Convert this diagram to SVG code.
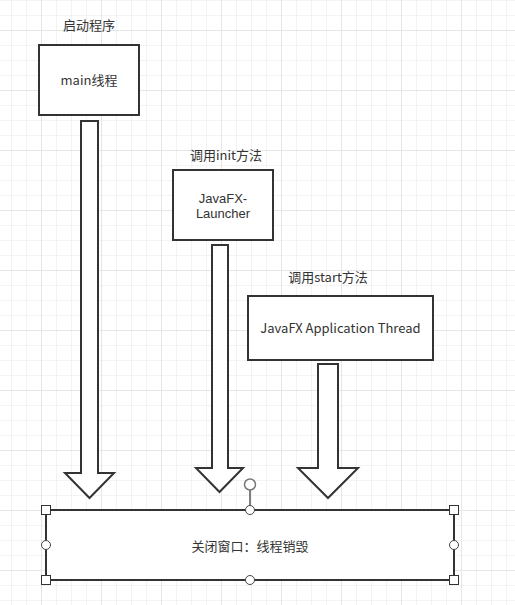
<svg xmlns="http://www.w3.org/2000/svg" width="515" height="605" viewBox="0 0 515 605">
  <defs>
    <pattern id="grid" patternUnits="userSpaceOnUse" x="41" y="30" width="60" height="60">
      <path d="M15.5 0V60M30.5 0V60M45.5 0V60M0 15.5H60M0 30.5H60M0 45.5H60" stroke="#f3f3f3" stroke-width="1" fill="none"/>
      <path d="M0.5 0V60M0 0.5H60" stroke="#e6e6e6" stroke-width="1" fill="none"/>
    </pattern>
    <style>
      .box{fill:#fff;stroke:#333;stroke-width:2}
      .arrow{fill:#fff;stroke:#333;stroke-width:2;stroke-linejoin:miter}
      .t{font-family:"Noto Sans CJK SC","Noto Sans",sans-serif;font-size:13px;fill:#333;text-anchor:middle}
      .tl{font-family:"Liberation Sans",Arial,sans-serif;font-size:13px;fill:#333;text-anchor:middle}
      .hs{fill:#fff;stroke:#333;stroke-width:1}
      .hc{fill:#fff;stroke:#444;stroke-width:1}
      .rot{fill:#fff;stroke:#777;stroke-width:1.5}
    </style>
  </defs>
  <rect width="515" height="605" fill="#fff"/>
  <rect width="515" height="605" fill="url(#grid)"/>

  <g id="connectors">
    <polygon class="arrow" points="81,121 98,121 98,473 114,473 89.5,498 65,473 81,473"/>
    <polygon class="arrow" points="212,245 228,245 228,468 243,468 219.5,492 196,468 212,468"/>
    <polygon class="arrow" points="318,364 338,364 338,468 358,468 328,498 298,468 318,468"/>
  </g>

  <g id="label-start">
    <text class="t" x="89" y="30">启动程序</text>
  </g>
  <g id="node-main">
    <rect class="box" x="39" y="45" width="100" height="70"/>
    <text class="t" x="89" y="85">main线程</text>
  </g>

  <g id="label-init">
    <text class="t" x="226" y="160">调用init方法</text>
  </g>
  <g id="node-launcher">
    <rect class="box" x="173" y="170" width="100" height="70"/>
    <text class="tl" x="223" y="202.5">JavaFX-</text>
    <text class="tl" x="223" y="217.6">Launcher</text>
  </g>

  <g id="label-start-method">
    <text class="t" x="328" y="281.5">调用start方法</text>
  </g>
  <g id="node-app-thread">
    <rect class="box" x="248" y="296" width="185" height="64"/>
    <text class="t" x="340.5" y="333">JavaFX Application Thread</text>
  </g>

  <g id="node-close">
    <rect class="box" x="46" y="510" width="408" height="70"/>
    <text class="t" x="250" y="550.5">关闭窗口：线程销毁</text>
    <line x1="250" y1="490" x2="250" y2="506" stroke="#555" stroke-width="1.5"/>
    <circle class="rot" cx="250" cy="484.5" r="5.5"/>
    <rect class="hs" x="41.5" y="505.5" width="9" height="9"/>
    <rect class="hs" x="449.5" y="505.5" width="9" height="9"/>
    <rect class="hs" x="41.5" y="575.5" width="9" height="9"/>
    <rect class="hs" x="449.5" y="575.5" width="9" height="9"/>
    <circle class="hc" cx="250" cy="510" r="4.5"/>
    <circle class="hc" cx="250" cy="580" r="4.5"/>
    <circle class="hc" cx="46" cy="545" r="4.5"/>
    <circle class="hc" cx="454" cy="545" r="4.5"/>
  </g>
</svg>
